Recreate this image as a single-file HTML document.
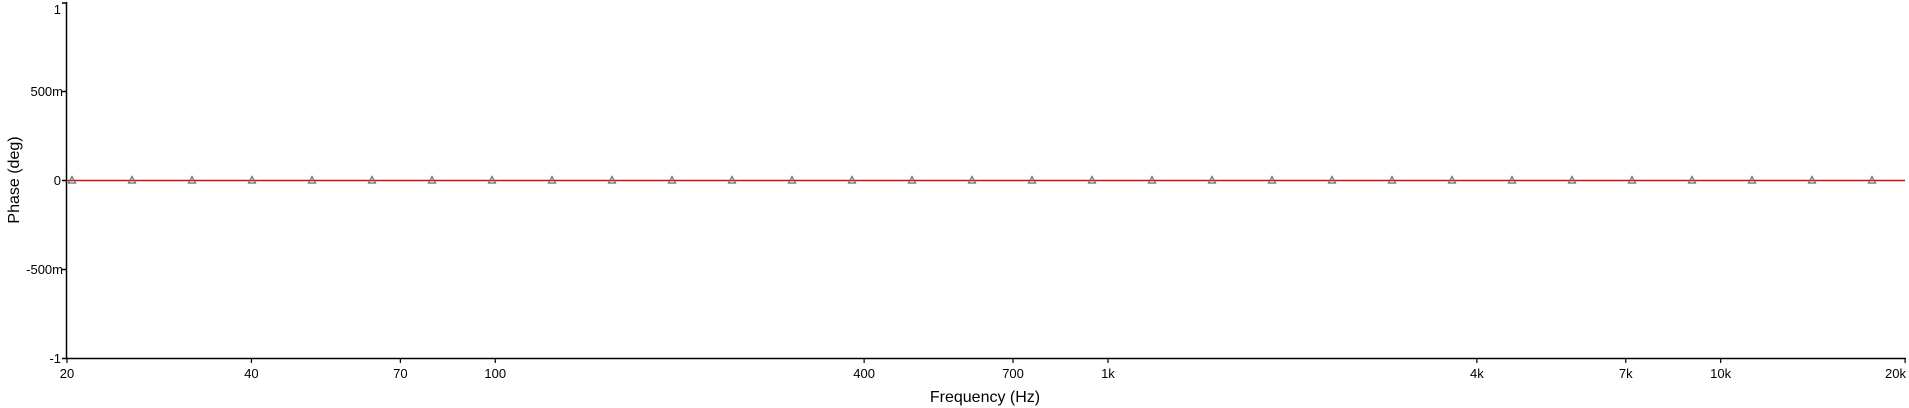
<!DOCTYPE html>
<html><head><meta charset="utf-8"><style>
html,body{margin:0;padding:0;background:#fff;width:1909px;height:408px;overflow:hidden}
text{font-family:"Liberation Sans",Arial,sans-serif;fill:#000}
</style></head><body>
<svg width="1909" height="408" xmlns="http://www.w3.org/2000/svg">
<g stroke="#000" stroke-width="1.5" fill="none">
<line x1="66.5" y1="2" x2="66.5" y2="359"/>
<line x1="66" y1="358.5" x2="1906" y2="358.5"/>
<line x1="62" y1="3" x2="67" y2="3"/>
<line x1="62" y1="91.5" x2="67" y2="91.5"/>
<line x1="62" y1="180.5" x2="67" y2="180.5"/>
<line x1="62" y1="269.5" x2="67" y2="269.5"/>
<line x1="62" y1="358.5" x2="67" y2="358.5"/>
</g>
<g font-size="13" text-anchor="end">
<text x="61" y="14">1</text>
<text x="63" y="96">500m</text>
<text x="61" y="185">0</text>
<text x="63" y="274">-500m</text>
<text x="61" y="363">-1</text>
</g>
<text font-size="16" transform="translate(19,180) rotate(-90)" text-anchor="middle">Phase (deg)</text>
<g id="xt" font-size="13" text-anchor="middle"></g>
<text x="985" y="402" font-size="16" text-anchor="middle">Frequency (Hz)</text>
<line x1="67" y1="180.5" x2="1905" y2="180.5" stroke="#d01010" stroke-width="1.5"/>
<g id="mk" fill="none" stroke="#6a6a6a" stroke-width="1.2"></g>
</svg>
<script>
var ns="http://www.w3.org/2000/svg";
var xt=document.getElementById("xt");
var labs=[[20,"20"],[40,"40"],[70,"70"],[100,"100"],[400,"400"],[700,"700"],[1000,"1k"],[4000,"4k"],[7000,"7k"],[10000,"10k"],[20000,"20k"]];
labs.forEach(function(l){
 var x=67+Math.log10(l[0]/20)*612.7;
 var t=document.createElementNS(ns,"line");
 t.setAttribute("x1",x);t.setAttribute("x2",x);t.setAttribute("y1",358);t.setAttribute("y2",363);
 t.setAttribute("stroke","#000");t.setAttribute("stroke-width","1.2");
 xt.appendChild(t);
 var s=document.createElementNS(ns,"text");
 if(l[0]==20000){s.setAttribute("x",1906);s.setAttribute("text-anchor","end");}
 else s.setAttribute("x",x);
 s.setAttribute("y",378);s.textContent=l[1];xt.appendChild(s);
});
var mk=document.getElementById("mk");
for(var i=0;i<31;i++){
 var x=72+i*60;
 var p=document.createElementNS(ns,"polygon");
 p.setAttribute("points",(x-3.5)+",183 "+(x+3.5)+",183 "+x+",176.5");
 mk.appendChild(p);
}
</script>
</body></html>
